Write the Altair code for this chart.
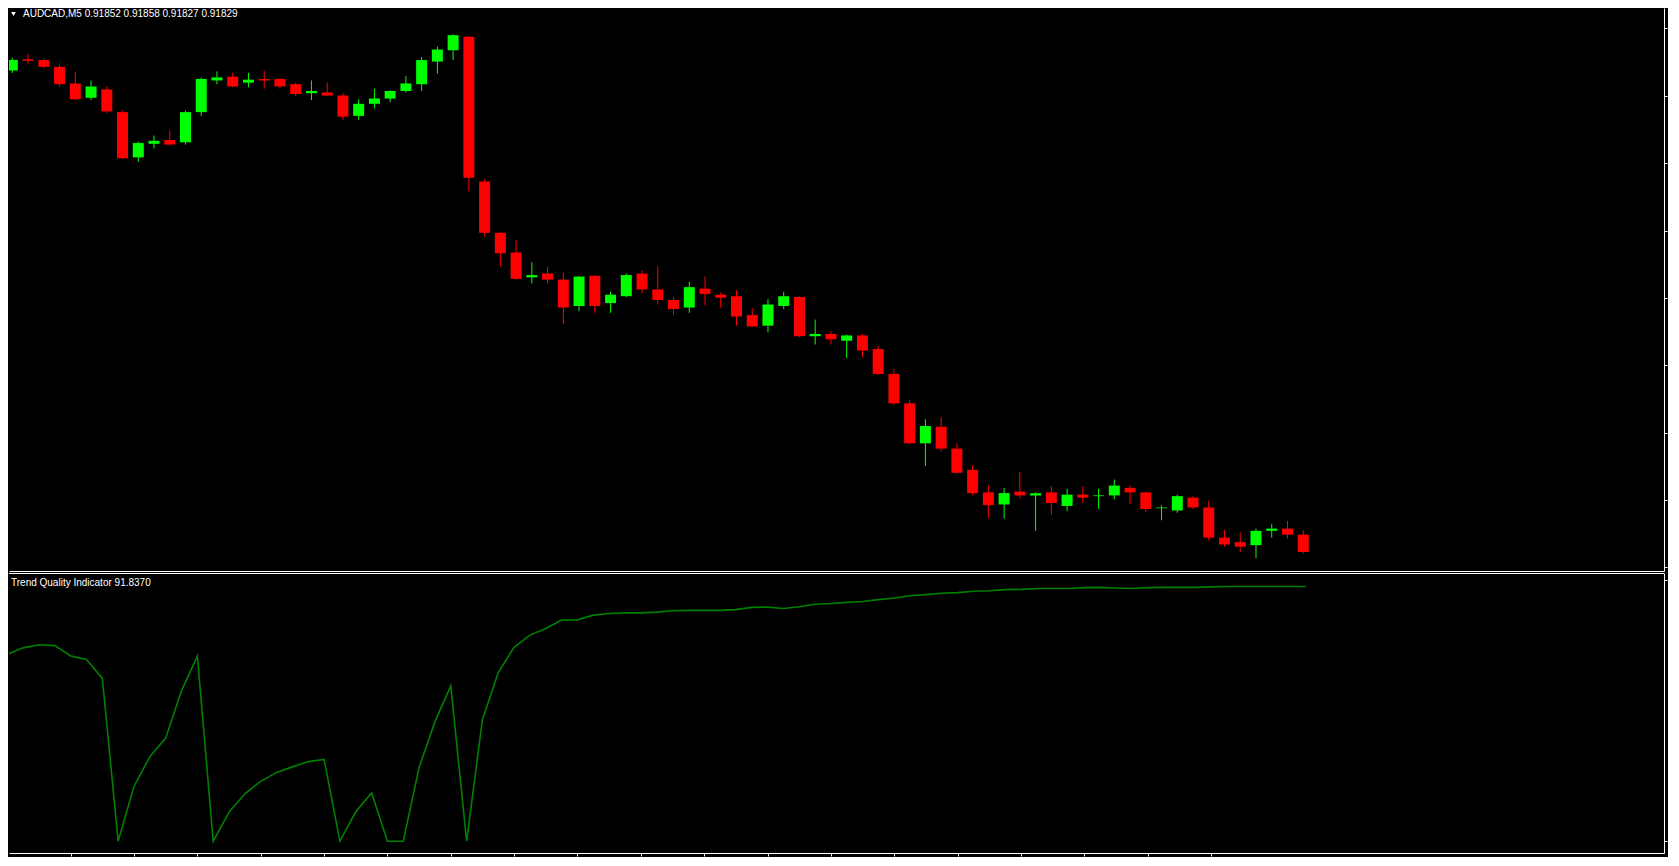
import altair as alt
import pandas as pd

# ---------------- data ----------------
bar_index = list(range(83))

open_ = [
    0.92467, 0.92482, 0.92481, 0.92472, 0.92450, 0.92431, 0.92442, 0.92412, 0.92352, 0.92370,
    0.92375, 0.92372, 0.92412, 0.92454, 0.92459, 0.92451, 0.92456, 0.92456, 0.92449, 0.92437,
    0.92438, 0.92434, 0.92407, 0.92423, 0.92430, 0.92440, 0.92449, 0.92479, 0.92494, 0.92512,
    0.92320, 0.92252, 0.92226, 0.92193, 0.92198, 0.92190, 0.92155, 0.92195, 0.92159, 0.92168,
    0.92198, 0.92177, 0.92163, 0.92153, 0.92178, 0.92170, 0.92168, 0.92143, 0.92129, 0.92155,
    0.92167, 0.92115, 0.92118, 0.92109, 0.92116, 0.92098, 0.92065, 0.92026, 0.91973, 0.91995,
    0.91966, 0.91938, 0.91908, 0.91892, 0.91909, 0.91904, 0.91908, 0.91890, 0.91905, 0.91903,
    0.91904, 0.91914, 0.91908, 0.91887, 0.91884, 0.91901, 0.91888, 0.91848, 0.91842, 0.91838,
    0.91857, 0.91860, 0.91852,
]
high = [
    0.92484, 0.92489, 0.92483, 0.92475, 0.92465, 0.92454, 0.92446, 0.92414, 0.92373, 0.92381,
    0.92388, 0.92414, 0.92458, 0.92466, 0.92464, 0.92464, 0.92467, 0.92457, 0.92451, 0.92454,
    0.92451, 0.92437, 0.92429, 0.92443, 0.92441, 0.92460, 0.92485, 0.92499, 0.92515, 0.92513,
    0.92323, 0.92253, 0.92243, 0.92213, 0.92207, 0.92199, 0.92195, 0.92196, 0.92174, 0.92198,
    0.92202, 0.92208, 0.92167, 0.92187, 0.92194, 0.92173, 0.92176, 0.92152, 0.92164, 0.92174,
    0.92168, 0.92137, 0.92122, 0.92117, 0.92118, 0.92102, 0.92072, 0.92031, 0.92005, 0.92008,
    0.91973, 0.91944, 0.91918, 0.91914, 0.91935, 0.91908, 0.91916, 0.91913, 0.91916, 0.91913,
    0.91925, 0.91917, 0.91909, 0.91891, 0.91905, 0.91903, 0.91897, 0.91858, 0.91855, 0.91860,
    0.91866, 0.91870, 0.91858,
]
low = [
    0.92464, 0.92476, 0.92470, 0.92446, 0.92428, 0.92428, 0.92411, 0.92350, 0.92346, 0.92364,
    0.92369, 0.92369, 0.92407, 0.92449, 0.92445, 0.92445, 0.92443, 0.92443, 0.92433, 0.92428,
    0.92433, 0.92402, 0.92402, 0.92417, 0.92425, 0.92438, 0.92440, 0.92463, 0.92481, 0.92307,
    0.92247, 0.92207, 0.92190, 0.92185, 0.92185, 0.92131, 0.92148, 0.92146, 0.92146, 0.92167,
    0.92172, 0.92157, 0.92143, 0.92146, 0.92156, 0.92153, 0.92129, 0.92127, 0.92120, 0.92151,
    0.92114, 0.92104, 0.92104, 0.92086, 0.92087, 0.92064, 0.92024, 0.91972, 0.91943, 0.91962,
    0.91933, 0.91904, 0.91874, 0.91873, 0.91900, 0.91857, 0.91878, 0.91883, 0.91894, 0.91886,
    0.91899, 0.91892, 0.91882, 0.91871, 0.91881, 0.91886, 0.91844, 0.91836, 0.91829, 0.91821,
    0.91848, 0.91847, 0.91827,
]
close = [
    0.92481, 0.92480, 0.92472, 0.92449, 0.92429, 0.92446, 0.92413, 0.92351, 0.92371, 0.92374,
    0.92369, 0.92412, 0.92456, 0.92458, 0.92446, 0.92455, 0.92454, 0.92446, 0.92436, 0.92440,
    0.92434, 0.92406, 0.92423, 0.92430, 0.92440, 0.92450, 0.92481, 0.92495, 0.92514, 0.92325,
    0.92252, 0.92225, 0.92191, 0.92196, 0.92190, 0.92153, 0.92194, 0.92155, 0.92170, 0.92196,
    0.92177, 0.92163, 0.92151, 0.92180, 0.92171, 0.92166, 0.92141, 0.92128, 0.92157, 0.92168,
    0.92115, 0.92118, 0.92111, 0.92116, 0.92096, 0.92065, 0.92026, 0.91973, 0.91996, 0.91966,
    0.91934, 0.91907, 0.91891, 0.91907, 0.91904, 0.91907, 0.91894, 0.91905, 0.91901, 0.91904,
    0.91917, 0.91908, 0.91886, 0.91888, 0.91903, 0.91888, 0.91848, 0.91839, 0.91836, 0.91857,
    0.91860, 0.91852, 0.91829,
]
tqi = [
    67.4, 69.7, 70.8, 70.5, 66.8, 65.5, 58.7, 0.0, 19.8, 30.5,
    37.2, 54.3, 66.7, 0.0, 10.5, 17.1, 21.6, 24.8, 26.8, 28.7,
    29.5, 0.0, 10.6, 17.4, 0.0, 0.0, 26.6, 43.1, 56.0, 0.0,
    43.9, 60.8, 70.0, 74.3, 76.7, 79.7, 79.8, 81.5, 82.1, 82.3,
    82.3, 82.6, 83.1, 83.2, 83.2, 83.2, 83.5, 84.3, 84.4, 83.9,
    84.5, 85.4, 85.7, 86.1, 86.4, 87.1, 87.7, 88.5, 88.9, 89.4,
    89.6, 90.1, 90.3, 90.7, 90.8, 91.1, 91.1, 91.1, 91.4, 91.5,
    91.3, 91.1, 91.4, 91.5, 91.5, 91.5, 91.7, 91.8, 91.8, 91.8,
    91.8, 91.8, 91.837,
]

price_ticks = [0.92523, 0.92478, 0.92434, 0.92389, 0.92344, 0.92300, 0.92255, 0.92211, 0.92166,
               0.92121, 0.92077, 0.92032, 0.91987, 0.91943, 0.91898, 0.91854, 0.91809]
time_ticks = [4, 8, 12, 16, 20, 24, 28, 32, 36, 40, 44, 48, 52, 56, 60, 64, 68, 72, 76]
tqi_ticks = [0, 94]

header_text = "AUDCAD,M5  0.91852 0.91858 0.91827 0.91829"
indicator_text = "Trend Quality Indicator 91.8370"

for arr in (open_, high, low, close, tqi):
    assert len(arr) == len(bar_index)

df = pd.DataFrame({"i": bar_index, "open": open_, "high": high,
                   "low": low, "close": close, "tqi": tqi})

# ---------------- layout ----------------
W = 1655
H1 = 563
H2 = 280
X_DOMAIN = [0.106, 104.6]
FONT = "Liberation Sans"

xscale = alt.Scale(domain=X_DOMAIN, nice=False, zero=False)

x_main = alt.X("i:Q", scale=xscale,
               axis=alt.Axis(title=None, labels=False, ticks=False, grid=False,
                             domain=True, domainColor="white", domainWidth=1))
y_price = alt.Y("low:Q",
                scale=alt.Scale(domain=[0.918038, 0.92550], nice=False, zero=False),
                axis=alt.Axis(orient="right", title=None, labels=False, grid=False,
                              domainColor="white", tickColor="white", tickSize=3,
                              values=price_ticks))
color = alt.Color("dir:N",
                  scale=alt.Scale(domain=["up", "down"], range=["#00ff00", "#ff0000"]),
                  legend=None)

base = alt.Chart(df).transform_calculate(
    dir="datum.close > datum.open ? 'up' : 'down'"
)

wicks = base.mark_rule(strokeWidth=1, clip=True).encode(
    x=x_main, y=y_price, y2="high:Q", color=color
)
bodies = base.mark_bar(size=11, clip=True).encode(
    x=alt.X("i:Q"), y=alt.Y("open:Q"), y2="close:Q", color=color
)

hdr_df = pd.DataFrame({"t": [header_text]})
header = alt.Chart(hdr_df).mark_text(
    align="left", baseline="middle", color="white", font=FONT, fontSize=10
).encode(x=alt.value(14), y=alt.value(6), text="t:N")
tri = alt.Chart(hdr_df).mark_point(
    shape="triangle-down", filled=True, color="white", size=22, opacity=1
).encode(x=alt.value(4.5), y=alt.value(6))

main = alt.layer(wicks, bodies, header, tri).properties(width=W, height=H1)

x_ind = alt.X("i:Q", scale=xscale,
              axis=alt.Axis(title=None, labels=False, grid=False,
                            domainColor="white", tickColor="white", tickSize=3,
                            values=time_ticks))
y_ind = alt.Y("tqi:Q",
              scale=alt.Scale(domain=[-4.25, 96.69], nice=False, zero=False),
              axis=alt.Axis(orient="right", title=None, labels=False, grid=False,
                            domainColor="white", tickColor="white", tickSize=3,
                            values=tqi_ticks))

line = alt.Chart(df).mark_line(color="#008000", strokeWidth=1.6, clip=True).encode(
    x=x_ind, y=y_ind
)
top_rule = alt.Chart(pd.DataFrame({"a": [0]})).mark_rule(color="white", strokeWidth=1).encode(
    x=alt.value(0), x2=alt.value(W), y=alt.value(0.5)
)
ind_label = alt.Chart(pd.DataFrame({"t": [indicator_text]})).mark_text(
    align="left", baseline="middle", color="white", font=FONT, fontSize=10
).encode(x=alt.value(2), y=alt.value(10), text="t:N")

indicator = alt.layer(line, top_rule, ind_label).properties(width=W, height=H2)

chart = alt.vconcat(main, indicator, spacing=2).properties(
    background="black", padding=0
).configure_view(stroke=None)

chart.save("out.html", embed_options={"renderer": "svg", "actions": False})
